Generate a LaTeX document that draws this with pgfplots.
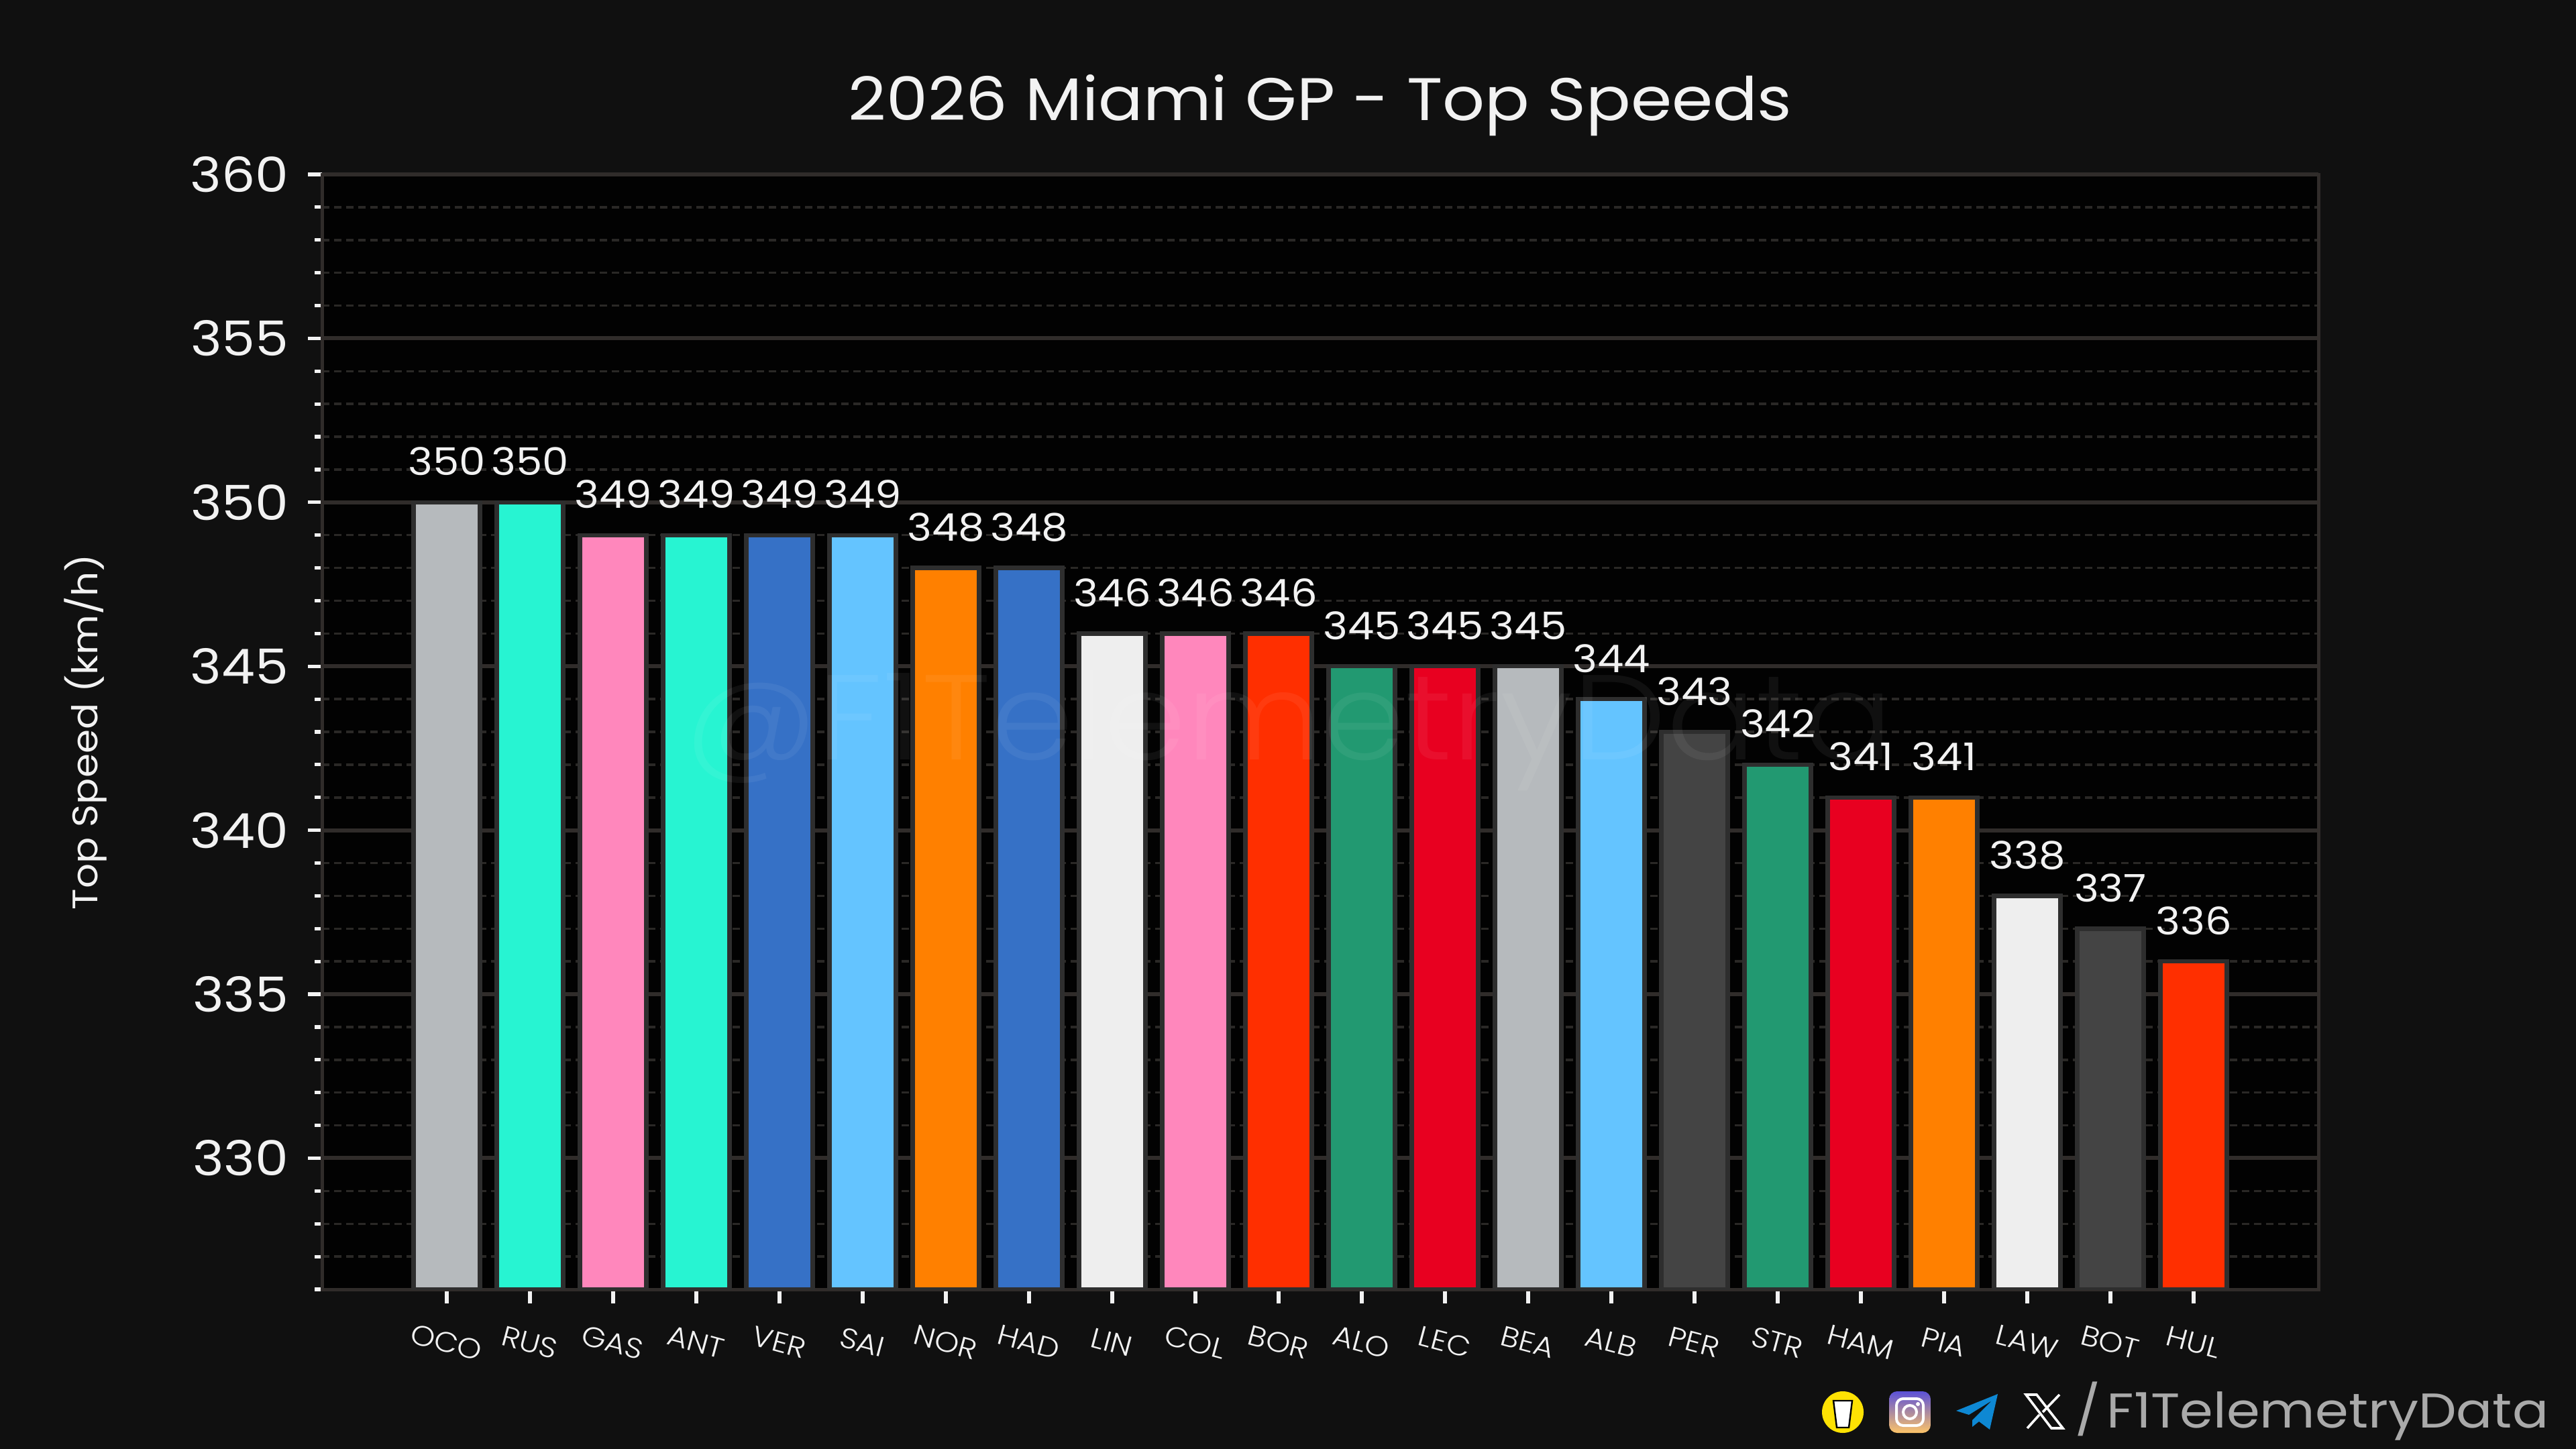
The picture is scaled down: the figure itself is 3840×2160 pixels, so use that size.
\documentclass[border=0pt]{standalone}
\usepackage{fontspec}
\setmainfont[UprightFont=* Light,FakeStretch=1.1]{Poppins}
\newfontfamily\regfont[FakeStretch=1.1]{Poppins}
\usepackage{pgfplots}
\pgfplotsset{compat=1.18}
\definecolor{bgout}{HTML}{101010}
\definecolor{bgax}{HTML}{020202}
\definecolor{spine}{HTML}{302C2A}
\definecolor{minorg}{HTML}{2A2826}
\definecolor{edge}{HTML}{2E2E2E}
\definecolor{txt}{HTML}{F2F2F2}
\definecolor{haas}{HTML}{B6BABD}
\definecolor{merc}{HTML}{27F4D2}
\definecolor{alpine}{HTML}{FF87BC}
\definecolor{rbr}{HTML}{3671C6}
\definecolor{will}{HTML}{64C4FF}
\definecolor{mcl}{HTML}{FF8000}
\definecolor{vcarb}{HTML}{EEEEEE}
\definecolor{audi}{HTML}{FF2F00}
\definecolor{aston}{HTML}{229971}
\definecolor{ferrari}{HTML}{E80020}
\definecolor{cadillac}{HTML}{444444}
\definecolor{igtop}{HTML}{5B51D8}
\definecolor{igmid}{HTML}{E1306C}
\definecolor{igbot}{HTML}{FDC468}
\definecolor{footgrey}{HTML}{AAAAAA}

\newcommand{\onebar}[3]{\addplot[fill=#3] coordinates {(#1,#2)};}

\begin{document}
\begin{tikzpicture}[x=0.25pt,y=-0.25pt]
\fill[bgout] (0,0) rectangle (3840,2160);
\useasboundingbox (0,0) rectangle (3840,2160);
\begin{axis}[
    at={(120pt,-480.5pt)}, anchor=south west,
    scale only axis,
    width=744pt, height=415.5pt,
    xmin=-1.5, xmax=22.5,
    ymin=326, ymax=360,
    axis background/.style={fill=bgax},
    axis line style={spine, line width=1.25pt},
    xtick={0,...,21},
    xticklabels={OCO,RUS,GAS,ANT,VER,SAI,NOR,HAD,LIN,COL,BOR,ALO,LEC,BEA,ALB,PER,STR,HAM,PIA,LAW,BOT,HUL},
    ytick={325,330,...,360},
    minor y tick num=4,
    ymajorgrids, yminorgrids,
    major grid style={spine, line width=1.5pt},
    minor grid style={minorg, line width=0.875pt, dash pattern=on 2.7pt off 1.8pt},
    tick align=outside, tick pos=left,
    tick style={txt, line width=1.3pt},
    major tick length=5.25pt, minor tick length=2.75pt,
    /pgf/number format/assume math mode=true,
    /pgf/number format/1000 sep={},
    yticklabel style={txt, font=\regfont\fontsize{18}{18}\selectfont, inner sep=0pt, xshift=-7pt},
    xticklabel style={txt, font=\fontsize{10.5}{10.5}\selectfont, anchor=center, rotate=-15, yshift=-14pt, xshift=3.6pt},
    every axis y label/.style={at={(axis description cs:-0.1186,0.5)}, rotate=90, anchor=center, txt, font=\regfont\fontsize{13.2}{13.2}\selectfont},
    ylabel={Top Speed (km/h)},
    every axis title/.style={at={(axis description cs:0.5,1.0487)}, anchor=base, txt, font=\regfont\fontsize{22.4}{22.4}\selectfont},
    title={2026 Miami GP - Top Speeds},
    ybar, bar width=0.8, bar shift=0pt,
    every axis plot/.append style={draw=edge, line width=1.6pt},
    nodes near coords,
    every node near coord/.style={txt, font=\regfont\fontsize{14.2}{14.2}\selectfont, anchor=base, yshift=10pt, inner sep=0pt},
]
\onebar{0}{350}{haas}
\onebar{1}{350}{merc}
\onebar{2}{349}{alpine}
\onebar{3}{349}{merc}
\onebar{4}{349}{rbr}
\onebar{5}{349}{will}
\onebar{6}{348}{mcl}
\onebar{7}{348}{rbr}
\onebar{8}{346}{vcarb}
\onebar{9}{346}{alpine}
\onebar{10}{346}{audi}
\onebar{11}{345}{aston}
\onebar{12}{345}{ferrari}
\onebar{13}{345}{haas}
\onebar{14}{344}{will}
\onebar{15}{343}{cadillac}
\onebar{16}{342}{aston}
\onebar{17}{341}{ferrari}
\onebar{18}{341}{mcl}
\onebar{19}{338}{vcarb}
\onebar{20}{337}{cadillac}
\onebar{21}{336}{audi}
\end{axis}
% watermark over the bars
\node[anchor=base, white, opacity=0.06, inner sep=0pt, font=\fontsize{45}{45}\selectfont] at (1921,1132) {@F1TelemetryData};
% footer
\node[anchor=base east, inner sep=0pt, footgrey, font=\regfont\fontsize{18.2}{18.2}\selectfont] at (3800,2128) {/\hspace{-3pt} F1TelemetryData};
\fill[yellow!85!orange] (2747,2105) ellipse [x radius=31, y radius=31];
\fill[white, draw=black, line width=0.6pt] (2733,2088) -- (2761,2088) -- (2756,2128) -- (2738,2128) -- cycle;
\shade[rounded corners=3pt, top color=igtop, middle color=igmid, bottom color=igbot] (2816,2074) rectangle (2878,2136);
\draw[white, line width=1pt, rounded corners=2.5pt] (2827,2085) rectangle (2867,2125);
\draw[white, line width=1pt] (2847,2105) circle [radius=10];
\fill[white] (2859,2093) circle [radius=3];
\fill[cyan!70!blue] (2978,2078) -- (2916,2103) -- (2935,2109) -- (2969,2088) -- (2940,2117) -- (2940,2127) -- (2950,2119) -- (2966,2131) -- cycle;
\draw[white, line width=0.9pt] (3020,2079) -- (3036,2079) -- (3075,2129) -- (3058,2129) -- cycle;
\draw[white, line width=0.9pt] (3070,2079) -- (3045,2105) (3040,2109) -- (3022,2129);
\end{tikzpicture}
\end{document}
